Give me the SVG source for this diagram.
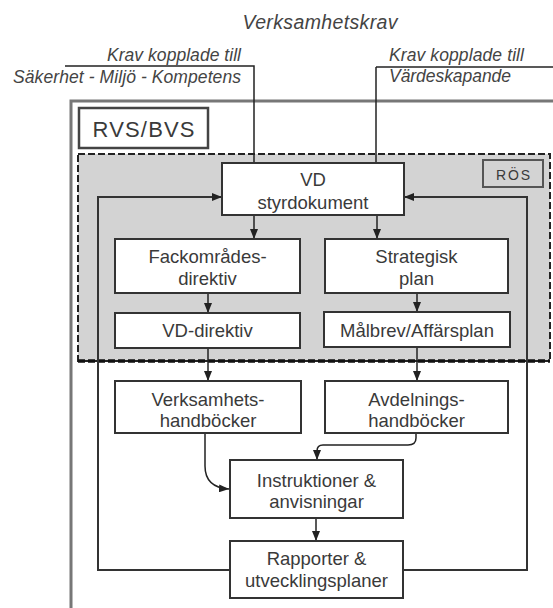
<svg xmlns="http://www.w3.org/2000/svg" width="553" height="608" viewBox="0 0 553 608">
<defs>
<marker id="ah" markerUnits="userSpaceOnUse" markerWidth="10" markerHeight="8" refX="10" refY="4" orient="auto">
<path d="M0,0 L10,4 L0,8 z" fill="#222"/>
</marker>
<style>
.box{fill:#fff;stroke:#333;stroke-width:2}
.t{font-family:"Liberation Sans",Arial,sans-serif;font-size:18.5px;fill:#3a3a3a;text-anchor:middle}
.it{font-family:"Liberation Sans",Arial,sans-serif;font-style:italic;font-size:17.5px;fill:#444}
.c{fill:none;stroke:#222;stroke-width:1.5}
.a{marker-end:url(#ah)}
.loop{fill:none;stroke:#333;stroke-width:2}
</style>
</defs>
<rect width="553" height="608" fill="#fff"/>

<!-- top labels -->
<g id="top-labels">
<text class="it" x="320" y="29" text-anchor="middle" font-size="19.5" style="font-size:19.5px" textLength="155">Verksamhetskrav</text>
<text class="it" x="241" y="61" text-anchor="end" textLength="134">Krav kopplade till</text>
<text class="it" x="13" y="83" textLength="228">Säkerhet - Miljö - Kompetens</text>
<text class="it" x="389" y="61" textLength="135">Krav kopplade till</text>
<text class="it" x="389" y="82" textLength="122">Värdeskapande</text>
</g>

<!-- outer RVS/BVS frame -->
<g id="rvs">
<rect x="71" y="101" width="500" height="520" fill="none" stroke="#777" stroke-width="3"/>
<rect x="79" y="108" width="129" height="40" fill="#fff" stroke="#444" stroke-width="2.5"/>
<text class="t" x="143.5" y="137" style="font-size:22px" textLength="102">RVS/BVS</text>
</g>

<!-- ROS region -->
<g id="ros">
<rect x="78" y="154" width="472" height="207" fill="#d3d3d3" stroke="#222" stroke-width="2" stroke-dasharray="7,3"/>
<line x1="78" y1="361" x2="550" y2="361" stroke="#111" stroke-width="3.5" stroke-dasharray="7,3"/>
<rect x="483" y="160" width="60" height="27" fill="#d3d3d3" stroke="#555" stroke-width="2"/>
<text class="t" x="513" y="180" style="font-size:14px" textLength="34">RÖS</text>
</g>

<g id="connectors">
<path class="c" d="M65,66 H254 V163"/>
<path class="c" d="M376,67 H553"/>
<path class="c" d="M376,67 V163"/>
<path class="loop a" d="M230,570 H98 V197 H222"/>
<path class="loop a" d="M403,570 H527 V197 H404"/>
<path class="c a" d="M254,215 V239"/>
<path class="c a" d="M377,215 V239"/>
<path class="c a" d="M208,293 V313"/>
<path class="c a" d="M417,293 V312"/>
<path class="c a" d="M208,348 V381"/>
<path class="c a" d="M417,347 V381"/>
<path class="c a" d="M205,433 V466 C205,481 213,488 229,489"/>
<path class="c a" d="M416,433 V438 Q416,445 408,445 H323 Q317,445 317,451 V460"/>
<path class="c a" d="M316,518 V541"/>
</g>

<g id="vd">
<rect class="box" x="222" y="163" width="182" height="52"/>
<text class="t" x="313" y="186">VD</text>
<text class="t" x="313" y="209">styrdokument</text>
</g>
<g id="fack">
<rect class="box" x="115" y="239" width="185" height="54"/>
<text class="t" x="207.5" y="263">Fackområdes-</text>
<text class="t" x="207.5" y="285">direktiv</text>
</g>
<g id="strat">
<rect class="box" x="325" y="239" width="183" height="54"/>
<text class="t" x="416.5" y="263">Strategisk</text>
<text class="t" x="416.5" y="285">plan</text>
</g>
<g id="vddir">
<rect class="box" x="115" y="313" width="185" height="35"/>
<text class="t" x="207.5" y="337">VD-direktiv</text>
</g>
<g id="malbrev">
<rect class="box" x="324" y="312" width="186" height="35"/>
<text class="t" x="417" y="337">Målbrev/Affärsplan</text>
</g>
<g id="verks">
<rect class="box" x="115" y="381" width="186" height="52"/>
<text class="t" x="208" y="406">Verksamhets-</text>
<text class="t" x="208" y="427">handböcker</text>
</g>
<g id="avd">
<rect class="box" x="325" y="381" width="183" height="52"/>
<text class="t" x="416.5" y="406">Avdelnings-</text>
<text class="t" x="416.5" y="427">handböcker</text>
</g>
<g id="instr">
<rect class="box" x="230" y="460" width="173" height="58"/>
<text class="t" x="316.5" y="487">Instruktioner &amp;</text>
<text class="t" x="316.5" y="508">anvisningar</text>
</g>
<g id="rapp">
<rect class="box" x="230" y="541" width="173" height="57"/>
<text class="t" x="316.5" y="565">Rapporter &amp;</text>
<text class="t" x="316.5" y="587">utvecklingsplaner</text>
</g>
</svg>
